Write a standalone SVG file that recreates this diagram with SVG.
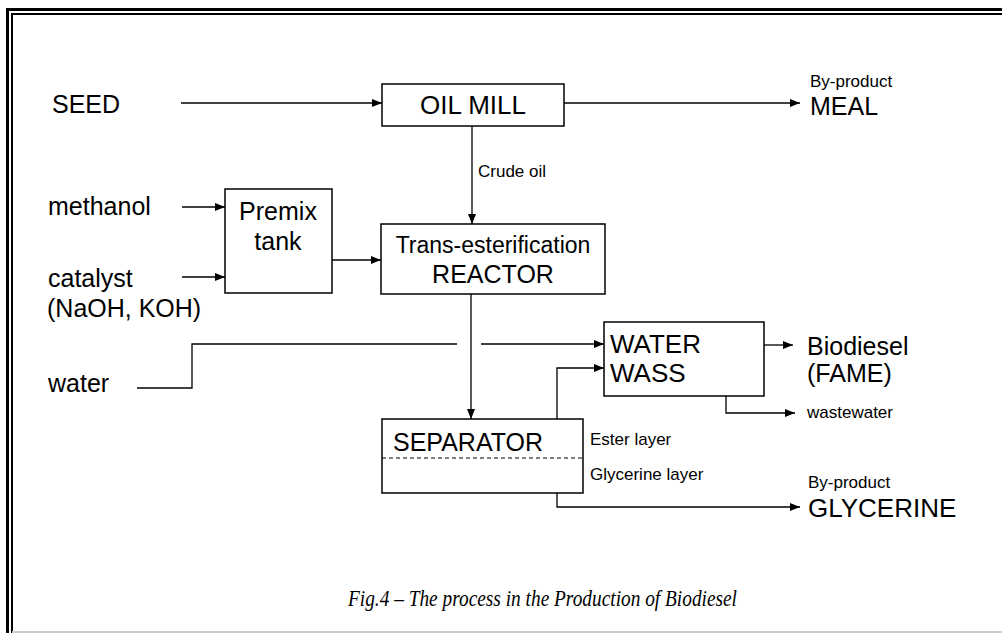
<svg xmlns="http://www.w3.org/2000/svg" width="1002" height="633" viewBox="0 0 1002 633">
<style>
.box{fill:#fff;stroke:#000;stroke-width:1.5}
.ln{fill:none;stroke:#000;stroke-width:1.3}
.big{font-family:"Liberation Sans",Arial,sans-serif;font-size:25px;fill:#000}
.sm{font-family:"Liberation Sans",Arial,sans-serif;font-size:17px;fill:#000}
.cap{font-family:"Liberation Serif","Times New Roman",serif;font-style:italic;font-size:24px;fill:#000}
</style>
<defs>
<marker id="ah" markerUnits="userSpaceOnUse" markerWidth="10" markerHeight="8" refX="10" refY="4" orient="auto">
<path d="M0,0 L10,4 L0,8 Z" fill="#000"/>
</marker>
</defs>
<rect width="1002" height="633" fill="#fff"/>
<g id="border">
<path d="M7.5,633 V9.5 H1002" fill="none" stroke="#000" stroke-width="3"/>
<path d="M12,633 V14 H1002" fill="none" stroke="#000" stroke-width="2"/>
<line x1="12" y1="632" x2="1002" y2="632" stroke="#ccc" stroke-width="2"/>
</g>
<g id="connectors">
<line class="ln" x1="181" y1="103" x2="382" y2="103" marker-end="url(#ah)"/>
<line class="ln" x1="564" y1="103" x2="800" y2="103" marker-end="url(#ah)"/>
<line class="ln" x1="472" y1="126" x2="472" y2="224" marker-end="url(#ah)"/>
<line class="ln" x1="182" y1="207" x2="225" y2="207" marker-end="url(#ah)"/>
<line class="ln" x1="182" y1="277" x2="225" y2="277" marker-end="url(#ah)"/>
<line class="ln" x1="332" y1="260" x2="381" y2="260" marker-end="url(#ah)"/>
<line class="ln" x1="471" y1="294" x2="471" y2="419" marker-end="url(#ah)"/>
<polyline class="ln" points="137,388 192,388 192,344 457,344"/>
<line class="ln" x1="481" y1="344" x2="604" y2="344" marker-end="url(#ah)"/>
<polyline class="ln" points="557,419 557,368 604,368" marker-end="url(#ah)"/>
<line class="ln" x1="764" y1="345" x2="793" y2="345" marker-end="url(#ah)"/>
<polyline class="ln" points="726,396 726,413 795,413" marker-end="url(#ah)"/>
<polyline class="ln" points="557,493 557,507 800,507" marker-end="url(#ah)"/>
<text class="sm" x="478" y="177">Crude oil</text>
</g>
<g id="seed"><text class="big" x="52" y="113">SEED</text></g>
<g id="oilmill">
<rect class="box" x="382" y="84" width="182" height="42"/>
<text class="big" x="473" y="114" text-anchor="middle" style="font-size:26px">OIL MILL</text>
</g>
<g id="meal">
<text class="sm" x="810" y="87">By-product</text>
<text class="big" x="810" y="115">MEAL</text>
</g>
<g id="methanol"><text class="big" x="48" y="215">methanol</text></g>
<g id="catalyst">
<text class="big" x="48" y="287">catalyst</text>
<text class="big" x="47" y="317">(NaOH, KOH)</text>
</g>
<g id="premix">
<rect class="box" x="225" y="189" width="107" height="104"/>
<text class="big" x="278" y="220" text-anchor="middle">Premix</text>
<text class="big" x="278" y="250" text-anchor="middle">tank</text>
</g>
<g id="reactor">
<rect class="box" x="381" y="224" width="224" height="70"/>
<text class="big" x="493" y="253" text-anchor="middle" style="font-size:23px">Trans-esterification</text>
<text class="big" x="493" y="283" text-anchor="middle">REACTOR</text>
</g>
<g id="water"><text class="big" x="48" y="392">water</text></g>
<g id="separator">
<rect class="box" x="382" y="419" width="201" height="74"/>
<line x1="382" y1="458" x2="583" y2="458" stroke="#000" stroke-width="1.2" stroke-dasharray="4,3"/>
<text class="big" x="393" y="451">SEPARATOR</text>
<text class="sm" x="590" y="445">Ester layer</text>
<text class="sm" x="590" y="480">Glycerine layer</text>
</g>
<g id="waterwass">
<rect class="box" x="604" y="322" width="160" height="74"/>
<text class="big" x="610" y="353" style="font-size:26px">WATER</text>
<text class="big" x="610" y="382" style="font-size:26px">WASS</text>
</g>
<g id="biodiesel">
<text class="big" x="807" y="355">Biodiesel</text>
<text class="big" x="807" y="382">(FAME)</text>
</g>
<g id="wastewater"><text class="sm" x="807" y="418">wastewater</text></g>
<g id="glycerine">
<text class="sm" x="808" y="488">By-product</text>
<text class="big" x="808" y="517" style="font-size:26px">GLYCERINE</text>
</g>
<g id="caption">
<text class="cap" x="348" y="606" textLength="389" lengthAdjust="spacingAndGlyphs">Fig.4 – The process in the Production of Biodiesel</text>
</g>
</svg>
